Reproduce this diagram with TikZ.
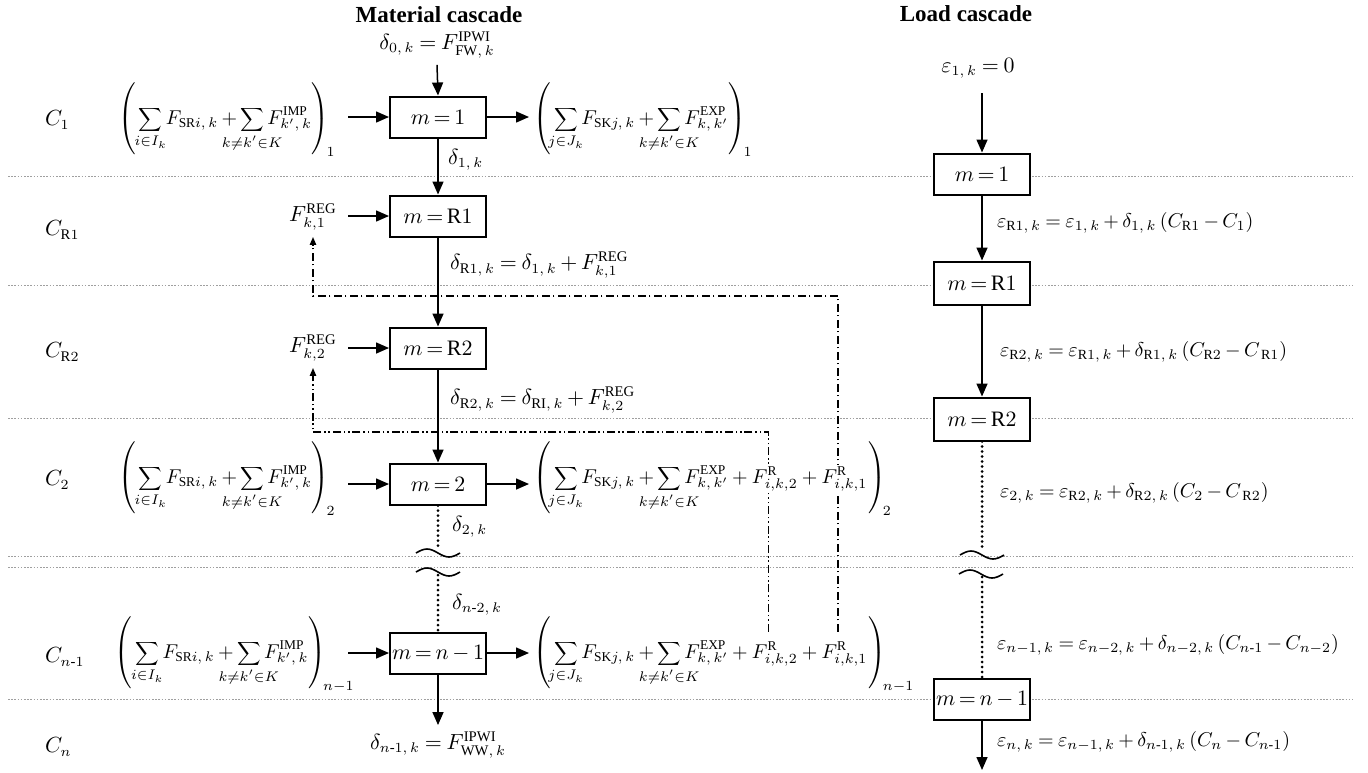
\documentclass[tikz,border=0pt]{standalone}
\usepackage{amsmath}
\usepackage{graphicx}
\usepackage{fontspec}
\setmainfont{Liberation Serif}
\usetikzlibrary{arrows.meta}
\newcommand\basefs{\fontsize{10.5}{12.6}\selectfont}
\newcommand\expfs{\fontsize{9.6}{11.5}\selectfont}
\newcommand\clp[1]{\makebox[0pt]{$\scriptstyle #1$}}
\newcommand\tallp{\rule[-14.5pt]{0pt}{34pt}}
\newcommand\Sm{\mathop{\scalebox{0.82}{$\displaystyle\sum$}}\limits}
\newcommand\inexpr[1]{$\displaystyle\left(\tallp\Sm_{\clp{i\in I_k}}F_{\mathrm{SR}i,\,k}+\Sm_{\clp{k\neq k'\in K}}F^{\mathrm{IMP}}_{k',\,k}\right)_{\!#1}$}
\newcommand\outhead{\left(\tallp\Sm_{\clp{j\in J_k}}F_{\mathrm{SK}j,\,k}+\Sm_{\clp{k\neq k'\in K}}F^{\mathrm{EXP}}_{k,\,k'}}
\begin{document}
\thickmuskip=4mu plus 2mu
\medmuskip=3mu plus 2mu
\nulldelimiterspace=0pt
\begin{tikzpicture}[x=0.5pt,y=-0.5pt,font=\basefs,
  box/.style={draw,line width=1pt,fill=white,minimum width=48pt,minimum height=20.5pt,inner sep=0pt,font=\fontsize{11}{13}\selectfont},
  arr/.style={line width=0.75pt,-{Triangle[length=6.5pt,width=5.5pt]}},
  sep/.style={gray!75,line width=0.4pt,dash pattern=on 0.8pt off 0.8pt},
  dotv/.style={line width=1.5pt,dash pattern=on 0pt off 2.5pt,line cap=round},
  ddA/.style={line width=0.7pt,dash pattern=on 4pt off 1.6pt on 0.8pt off 1.6pt,-{Triangle[length=4pt,width=3.2pt]}},
  ddB/.style={line width=0.7pt,dash pattern=on 4pt off 1.4pt on 0.8pt off 1.4pt on 0.8pt off 1.4pt,-{Triangle[length=4pt,width=3.2pt]}},
  tl/.style={line width=0.8pt},
  expr/.style={inner sep=0pt,font=\expfs},
  frt/.style={expr,anchor=base west,fill=white,inner ysep=1pt},
  lab/.style={font=\fontsize{10}{12}\selectfont},
  ttl/.style={font=\fontsize{11.5}{14}\selectfont\bfseries}]
\useasboundingbox (0,0) rectangle (1368,772);
% separators
\foreach \yy in {176,285,418,556,567,699} \draw[sep] (8,\yy) -- (1353,\yy);
% titles
\node[ttl] (t1) at (439,15) {Material cascade};
\node[ttl] (t2) at (966,14) {Load cascade};
% row labels
\node[anchor=west] (c1) at (38,120) {$C_1$};
\node[anchor=west] (cR1) at (38,230) {$C_{\mathrm{R}1}$};
\node[anchor=west] (cR2) at (38,352) {$C_{\mathrm{R}2}$};
\node[anchor=west] (c2) at (38,480) {$C_2$};
\node[anchor=west] (cn1) at (38,657) {$C_{n\text{-}1}$};
\node[anchor=west] (cn) at (38,747) {$C_n$};
% material boxes
\node[box] (b1) at (438,117) {$m\,{=}\,1$};
\node[box] (bR1) at (438,216) {$m\,{=}\,\mathrm{R}1$};
\node[box] (bR2) at (438,348) {$m\,{=}\,\mathrm{R}2$};
\node[box] (b2) at (438,484) {$m\,{=}\,2$};
\node[box] (bn) at (438,653) {$m\,{=}\,n\,{-}\,1$};
% material labels
\node (d0) at (437,45) {$\delta_{0,\,k}=F^{\mathrm{IPWI}}_{\mathrm{FW},\,k}$};
\node[anchor=west] (d1) at (441,160) {$\delta_{1,\,k}$};
\node[anchor=west] (dR1) at (443,265) {$\delta_{\mathrm{R}1,\,k}=\delta_{1,\,k}+F^{\mathrm{REG}}_{k,1}$};
\node[anchor=west] (dR2) at (443,400) {$\delta_{\mathrm{R}2,\,k}=\delta_{\mathrm{RI},\,k}+F^{\mathrm{REG}}_{k,2}$};
\node[anchor=west] (d2) at (445,527) {$\delta_{2,\,k}$};
\node[anchor=west] (dn2) at (445,605) {$\delta_{n\text{-}2,\,k}$};
\node (dn1) at (438,745) {$\delta_{n\text{-}1,\,k}=F^{\mathrm{IPWI}}_{\mathrm{WW},\,k}$};
\node (fR1) at (313,217) {$F^{\mathrm{REG}}_{k,1}$};
\node (fR2) at (313,348) {$F^{\mathrm{REG}}_{k,2}$};
% material arrows
\draw[arr] (d0.south) -- (b1.north);
\draw[arr] (b1) -- (bR1);
\draw[arr] (bR1) -- (bR2);
\draw[arr] (bR2) -- (b2);
\coordinate (mt1) at (438,550);
\coordinate (mt2) at (438,575);
\draw[dotv] (b2.south) -- (mt1);
\draw[dotv] (mt2) -- (bn.north);
\draw[arr] (bn.south) -- (dn1.north);
\draw[tl] (416,553) sin (427,549) cos (438,553) sin (449,557) cos (460,553);
\draw[tl] (416,572) sin (427,568) cos (438,572) sin (449,576) cos (460,572);
\draw[arr] ([xshift=-20.5pt]bR1.west) -- (bR1.west);
\draw[arr] ([xshift=-20.5pt]bR2.west) -- (bR2.west);
% input expressions
\node[expr,anchor=base east] (in1) at (336,124) {\inexpr{1}};
\node[expr,anchor=base east] (in2) at (336,483) {\inexpr{2}};
\node[expr,anchor=base east] (inn) at (355,658) {\inexpr{n-1}};
\draw[arr] ([xshift=-20.5pt]b1.west) -- (b1.west);
\draw[arr] ([xshift=-20.5pt]b2.west) -- (b2.west);
\draw[arr] ([xshift=-20.5pt]bn.west) -- (bn.west);
% output expressions
\node[expr,anchor=base west] (out1) at (533,124) {$\displaystyle\outhead\right)_{\!1}$};
\node[expr,anchor=base west] (ona) at (533,658) {$\displaystyle\outhead+{}\right.$};
\node[frt] (onb) at (ona.base east) {$F^{\mathrm{R}}_{i,k,2}$};
\node[expr,anchor=base west] (onc) at (onb.base east) {${}+{}$};
\node[frt] (ond) at (onc.base east) {$F^{\mathrm{R}}_{i,k,1}$};
\node[expr,anchor=base west] (one) at (ond.base east) {$\displaystyle\left.\tallp\right)_{\!n-1}$};
\draw[arr] (b1.east) -- ([xshift=21pt]b1.east);
\draw[arr] (b2.east) -- ([xshift=21pt]b2.east);
\draw[arr] (bn.east) -- ([xshift=21pt]bn.east);
% feedback dash-dot lines
\coordinate (r1) at ([xshift=8.5pt,yshift=4pt]ond.north west);
\coordinate (r2) at ([xshift=8.5pt,yshift=4pt]onb.north west);
\coordinate (h1) at (0,296);
\coordinate (h2) at (0,432);
\draw[ddA] (r1) |- (h1 -| fR1.south) -- (fR1.south);
\draw[ddB] (r2) |- (h2 -| fR2.south) -- (fR2.south);
% row-2 output, drawn over the feedback lines
\node[expr,anchor=base west] (o2a) at (533,483) {$\displaystyle\outhead+{}\right.$};
\node[frt] (o2b) at (o2a.base east) {$F^{\mathrm{R}}_{i,k,2}$};
\node[expr,anchor=base west] (o2c) at (o2b.base east) {${}+{}$};
\node[frt] (o2d) at (o2c.base east) {$F^{\mathrm{R}}_{i,k,1}$};
\node[expr,anchor=base west] (o2e) at (o2d.base east) {$\displaystyle\left.\tallp\right)_{\!2}$};
% load cascade
\node[box] (lb1) at (982,174) {$m\,{=}\,1$};
\node[box,minimum height=21.5pt] (lbR1) at (982,283) {$m\,{=}\,\mathrm{R}1$};
\node[box,minimum height=21.5pt] (lbR2) at (982,419) {$m\,{=}\,\mathrm{R}2$};
\node[box] (lbn) at (982,699) {$m\,{=}\,n\,{-}\,1$};
\node (e0) at (978,68) {$\varepsilon_{1,\,k}=0$};
\node[lab,anchor=west] (e1) at (990,223) {$\varepsilon_{\mathrm{R}1,\,k}=\varepsilon_{1,\,k}+\delta_{1,\,k}\,(C_{\mathrm{R}1}-C_1)$};
\node[lab,anchor=west] (e2) at (993,352) {$\varepsilon_{\mathrm{R}2,\,k}=\varepsilon_{\mathrm{R}1,\,k}+\delta_{\mathrm{R}1,\,k}\,(C_{\mathrm{R}2}-C_{\,\mathrm{R}1})$};
\node[lab,anchor=west] (e3) at (993,493) {$\varepsilon_{2,\,k}=\varepsilon_{\mathrm{R}2,\,k}+\delta_{\mathrm{R}2,\,k}\,(C_2-C_{\,\mathrm{R}2})$};
\node[lab,anchor=west] (e4) at (990,645) {$\varepsilon_{n-1,\,k}=\varepsilon_{n-2,\,k}+\delta_{n-2,\,k}\,(C_{n\text{-}1}-C_{n-2})$};
\node[lab,anchor=west] (e5) at (990,742) {$\varepsilon_{n,\,k}=\varepsilon_{n-1,\,k}+\delta_{n\text{-}1,\,k}\,(C_n-C_{n\text{-}1})$};
\draw[arr,shorten <=4pt] (e0.south -| lb1.north) -- (lb1.north);
\draw[arr] (lb1) -- (lbR1);
\draw[arr] (lbR1) -- (lbR2);
\coordinate (lt1) at (982,550);
\coordinate (lt2) at (982,577);
\draw[dotv] (lbR2.south) -- (lt1);
\draw[dotv] (lt2) -- (lbn.north);
\draw[tl] (960,555) sin (971,551) cos (982,555) sin (993,559) cos (1004,555);
\draw[tl] (959,574) sin (970,570) cos (981,574) sin (992,578) cos (1003,574);
\coordinate (lend) at (982,770);
\draw[arr] (lbn.south) -- (lend);
\end{tikzpicture}
\end{document}
